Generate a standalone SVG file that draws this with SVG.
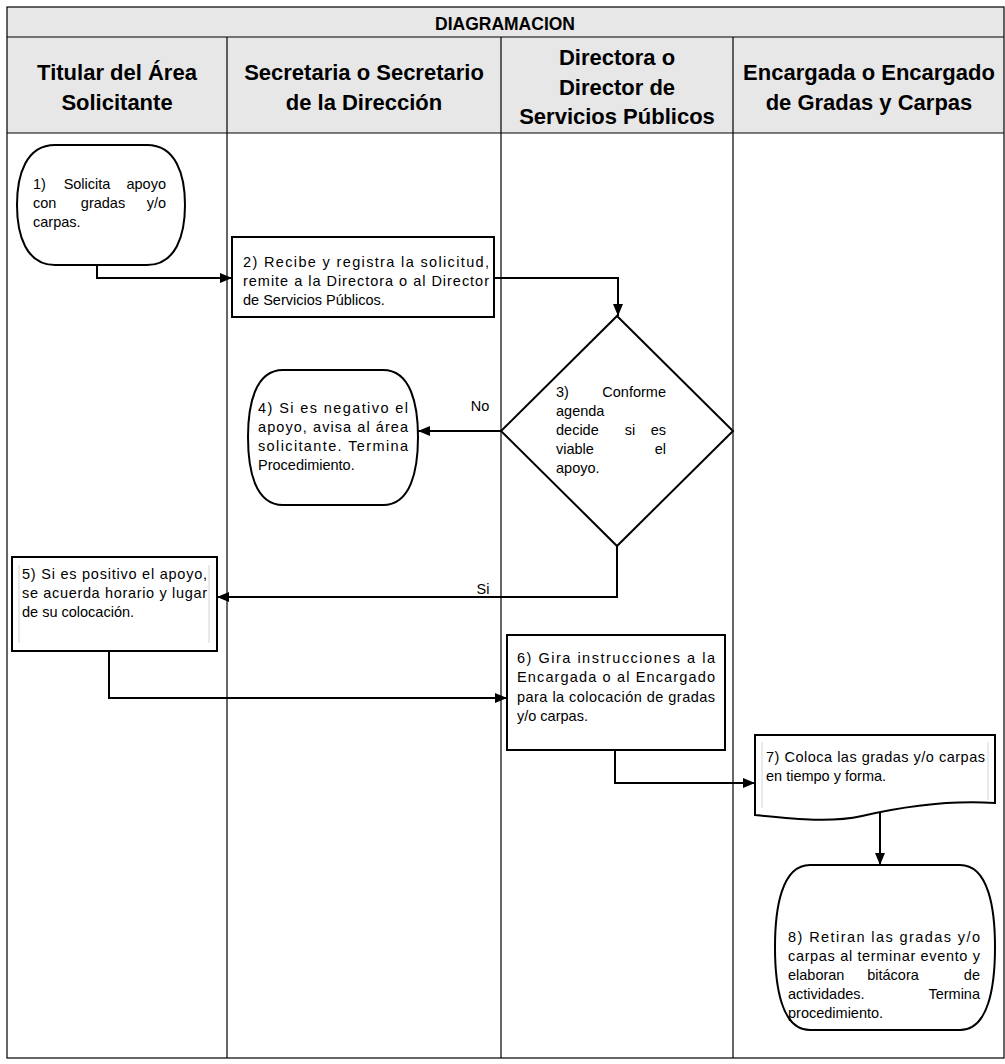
<svg xmlns="http://www.w3.org/2000/svg" width="1005" height="1064" viewBox="0 0 1005 1064">
<style>
.hdr{font-family:"Liberation Sans",Arial,sans-serif;font-weight:bold;font-size:22px;fill:#000;text-anchor:middle}
.ttl{font-family:"Liberation Sans",Arial,sans-serif;font-weight:bold;font-size:17.5px;fill:#000;text-anchor:middle}
.t{font-family:"Liberation Sans",Arial,sans-serif;font-size:14.5px;fill:#000}
.e{text-anchor:end}
.m{text-anchor:middle}
.grid{fill:none;stroke:#000;stroke-width:1.2}
.node{fill:#fff;stroke:#000;stroke-width:2}
.faint{stroke:#d4d4d4;stroke-width:1;fill:none}
.conn{fill:none;stroke:#000;stroke-width:2}
</style>
<defs>
<marker id="arr" markerUnits="userSpaceOnUse" markerWidth="12" markerHeight="10" refX="12" refY="5" orient="auto">
<path d="M0,0 L12,5 L0,10 Z" fill="#000"/>
</marker>
</defs>
<rect width="1005" height="1064" fill="#fff"/>
<g id="table">
<rect x="7" y="7" width="997" height="126" fill="#e7e7e7"/>
<rect class="grid" x="7" y="7" width="997" height="1051"/>
<line class="grid" x1="7" y1="37" x2="1004" y2="37"/>
<line class="grid" x1="7" y1="133" x2="1004" y2="133"/>
<line class="grid" x1="227" y1="37" x2="227" y2="1058"/>
<line class="grid" x1="501" y1="37" x2="501" y2="1058"/>
<line class="grid" x1="733" y1="37" x2="733" y2="1058"/>
<text class="ttl" x="505" y="30">DIAGRAMACION</text>
<text class="hdr" x="117" y="80">Titular del Área</text>
<text class="hdr" x="117" y="110">Solicitante</text>
<text class="hdr" x="364" y="80">Secretaria o Secretario</text>
<text class="hdr" x="364" y="110">de la Dirección</text>
<text class="hdr" x="617" y="65">Directora o</text>
<text class="hdr" x="617" y="95">Director de</text>
<text class="hdr" x="617" y="124">Servicios Públicos</text>
<text class="hdr" x="869" y="80">Encargada o Encargado</text>
<text class="hdr" x="869" y="110">de Gradas y Carpas</text>
</g>
<g id="connectors">
<path class="conn" d="M97,265 V278 H232" marker-end="url(#arr)"/>
<path class="conn" d="M494,278 H618 V316" marker-end="url(#arr)"/>
<path class="conn" d="M501,431 H418" marker-end="url(#arr)"/>
<path class="conn" d="M617,546 V597 H217" marker-end="url(#arr)"/>
<path class="conn" d="M109,651 V698 H507" marker-end="url(#arr)"/>
<path class="conn" d="M615,750 V783 H755" marker-end="url(#arr)"/>
<path class="conn" d="M880,812 V865" marker-end="url(#arr)"/>
<text class="t m" x="480" y="411">No</text>
<text class="t m" x="483" y="594">Si</text>
</g>
<g id="node1">
<path class="node" d="M55,145 H147 C176,145 185,175 185,205 C185,235 176,265 147,265 H55 C26,265 17,235 17,205 C17,175 26,145 55,145 Z"/>
<text class="t" x="33" y="189">1)</text><text class="t m" x="87" y="189">Solicita</text><text class="t e" x="166" y="189">apoyo</text>
<text class="t" x="33" y="208">con</text><text class="t m" x="103" y="208">gradas</text><text class="t e" x="166" y="208">y/o</text>
<text class="t" x="33" y="227">carpas.</text>
</g>
<g id="node2">
<rect class="node" x="232" y="237" width="262" height="80"/>
<text class="t" x="243" y="267" textLength="246" lengthAdjust="spacing">2) Recibe y registra la solicitud,</text>
<text class="t" x="243" y="286" textLength="246" lengthAdjust="spacing">remite a la Directora o al Director</text>
<text class="t" x="243" y="305">de Servicios Públicos.</text>
</g>
<g id="node3">
<polygon class="node" points="617,316 733,431 617,546 501,431"/>
<text class="t" x="556" y="397">3)</text><text class="t e" x="666" y="397">Conforme</text>
<text class="t" x="556" y="416">agenda</text>
<text class="t" x="556" y="435">decide</text><text class="t m" x="630" y="435">si</text><text class="t e" x="666" y="435">es</text>
<text class="t" x="556" y="454">viable</text><text class="t e" x="666" y="454">el</text>
<text class="t" x="556" y="473">apoyo.</text>
</g>
<g id="node4">
<path class="node" d="M283,370 H383 C411,370 418,405 418,437 C418,470 411,505 383,505 H283 C255,505 248,470 248,437 C248,405 255,370 283,370 Z"/>
<text class="t" x="258" y="413" textLength="150" lengthAdjust="spacing">4) Si es negativo el</text>
<text class="t" x="258" y="432" textLength="150" lengthAdjust="spacing">apoyo, avisa al área</text>
<text class="t" x="258" y="451" textLength="150" lengthAdjust="spacing">solicitante. Termina</text>
<text class="t" x="258" y="470">Procedimiento.</text>
</g>
<g id="node5">
<rect class="node" x="12" y="557" width="205" height="94"/>
<line class="faint" x1="19" y1="565" x2="19" y2="643"/>
<line class="faint" x1="209" y1="565" x2="209" y2="643"/>
<text class="t" x="22" y="579" textLength="185" lengthAdjust="spacing">5) Si es positivo el apoyo,</text>
<text class="t" x="22" y="598" textLength="185" lengthAdjust="spacing">se acuerda horario y lugar</text>
<text class="t" x="22" y="617">de su colocación.</text>
</g>
<g id="node6">
<rect class="node" x="507" y="635" width="218" height="115"/>
<text class="t" x="517" y="663" textLength="198" lengthAdjust="spacing">6) Gira instrucciones a la</text>
<text class="t" x="517" y="682" textLength="198" lengthAdjust="spacing">Encargada o al Encargado</text>
<text class="t" x="517" y="702" textLength="198" lengthAdjust="spacing">para la colocación de gradas</text>
<text class="t" x="517" y="721">y/o carpas.</text>
</g>
<g id="node7">
<path class="node" d="M755,735 H995 V803 C950,800 905,806 862,816 C830,823 795,819 755,815 Z"/>
<line class="faint" x1="762" y1="742" x2="762" y2="808"/>
<line class="faint" x1="988" y1="742" x2="988" y2="800"/>
<text class="t" x="766" y="762" textLength="219" lengthAdjust="spacing">7) Coloca las gradas y/o carpas</text>
<text class="t" x="766" y="781">en tiempo y forma.</text>
</g>
<g id="node8">
<path class="node" d="M810,865 H960 C989,865 995,910 995,947 C995,985 989,1030 960,1030 H810 C781,1030 775,985 775,947 C775,910 781,865 810,865 Z"/>
<text class="t" x="788" y="942" textLength="192" lengthAdjust="spacing">8) Retiran las gradas y/o</text>
<text class="t" x="788" y="961" textLength="192" lengthAdjust="spacing">carpas al terminar evento y</text>
<text class="t" x="788" y="980">elaboran</text><text class="t m" x="893" y="980">bitácora</text><text class="t e" x="980" y="980">de</text>
<text class="t" x="788" y="999">actividades.</text><text class="t e" x="980" y="999">Termina</text>
<text class="t" x="788" y="1018">procedimiento.</text>
</g>
</svg>
